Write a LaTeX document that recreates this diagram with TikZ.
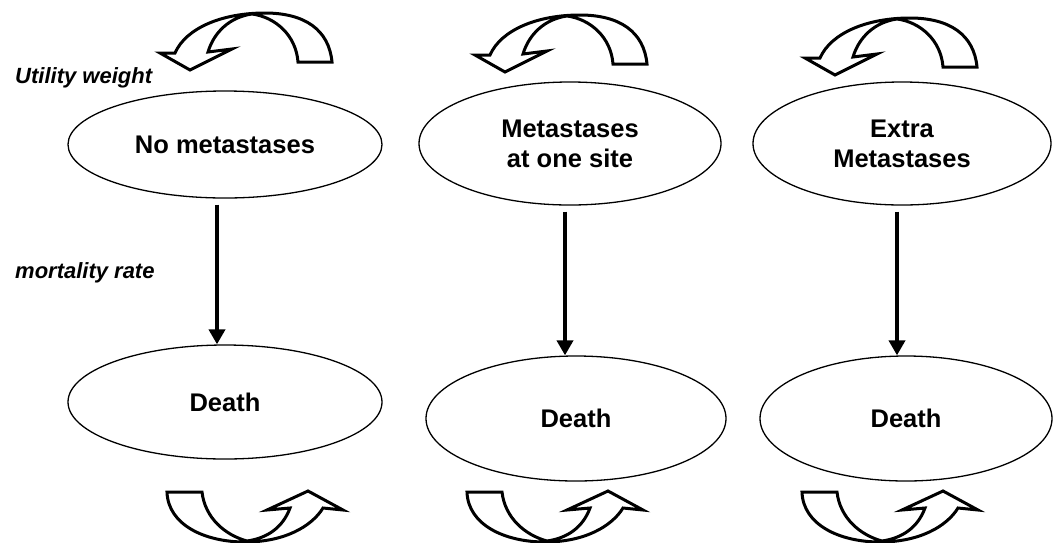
\documentclass[tikz,border=0pt]{standalone}
\usepackage{fontspec}
\setmainfont{Liberation Sans}
\usetikzlibrary{shapes.geometric,arrows.meta}

\tikzset{
  state/.style={ellipse, draw, line width=1.3pt, inner sep=0pt, align=center,
    font=\bfseries\fontsize{25.5}{30}\selectfont},
  flow/.style={line width=4pt, -{Triangle[width=16pt,length=15pt]}, shorten <=6pt},
  axislabel/.style={anchor=base west, inner sep=0pt,
    font=\bfseries\itshape\fontsize{22}{26}\selectfont},
  curl/.style={draw, fill=white, line width=3pt, line join=miter},
  % self-loop arrow above a state
  topcurl/.pic={
    \path[curl] (332,62) .. controls (329,30) and (305,13) .. (265,13)
      .. controls (222,13) and (186,28) .. (175,53) -- (160,53) -- (190,70)
      -- (232,49) -- (208,52) .. controls (214,32) and (230,17) .. (252,14)
      .. controls (275,17) and (296,35) .. (298,62) -- cycle;
  },
  % self-loop arrow below a death state
  bottomcurl/.pic={
    \path[curl] (167,492) .. controls (168,525) and (205,542) .. (245,542)
      .. controls (285,542) and (312,526) .. (323,508) -- (343,510) -- (308,491)
      -- (267,510) -- (290,508) .. controls (283,527) and (268,538) .. (247,541)
      .. controls (225,535) and (205,518) .. (202,492) -- cycle;
  }
}

\begin{document}
\begin{tikzpicture}[x=1pt, y=-1pt]
  \useasboundingbox (0,0) rectangle (1054,542);

  % health states
  \node[state, minimum width=314pt, minimum height=107pt] (e1) at (225,144.5) {No metastases};
  \node[state, minimum width=302pt, minimum height=123pt] (e2) at (570,143.5) {Metastases\\at one site};
  \node[state, minimum width=298pt, minimum height=123pt] (e3) at (902,143.5) {Extra\\Metastases};

  % absorbing states
  \node[state, minimum width=314pt, minimum height=114pt] (d1) at (225,402) {Death};
  \node[state, minimum width=300pt, minimum height=125pt] (d2) at (576,418.5) {Death};
  \node[state, minimum width=292pt, minimum height=125pt] (d3) at (906,418.5) {Death};

  % transitions to death
  \draw[flow] ([xshift=-8pt]e1.south) -- ([xshift=-8pt]d1.north);
  \draw[flow] ([xshift=-5pt]e2.south) -- ([xshift=-11pt]d2.north);
  \draw[flow] ([xshift=-5pt]e3.south) -- ([xshift=-9pt]d3.north);

  % self-loops
  \pic at (0,0) {topcurl};
  \pic at (315,2) {topcurl};
  \pic at (645,5) {topcurl};
  \pic at (0,0) {bottomcurl};
  \pic at (300,0) {bottomcurl};
  \pic at (635,0) {bottomcurl};

  % side labels
  \node[axislabel] (uw) at (15,83) {Utility weight};
  \node[axislabel] (mr) at (15,278) {mortality rate};
\end{tikzpicture}
\end{document}
